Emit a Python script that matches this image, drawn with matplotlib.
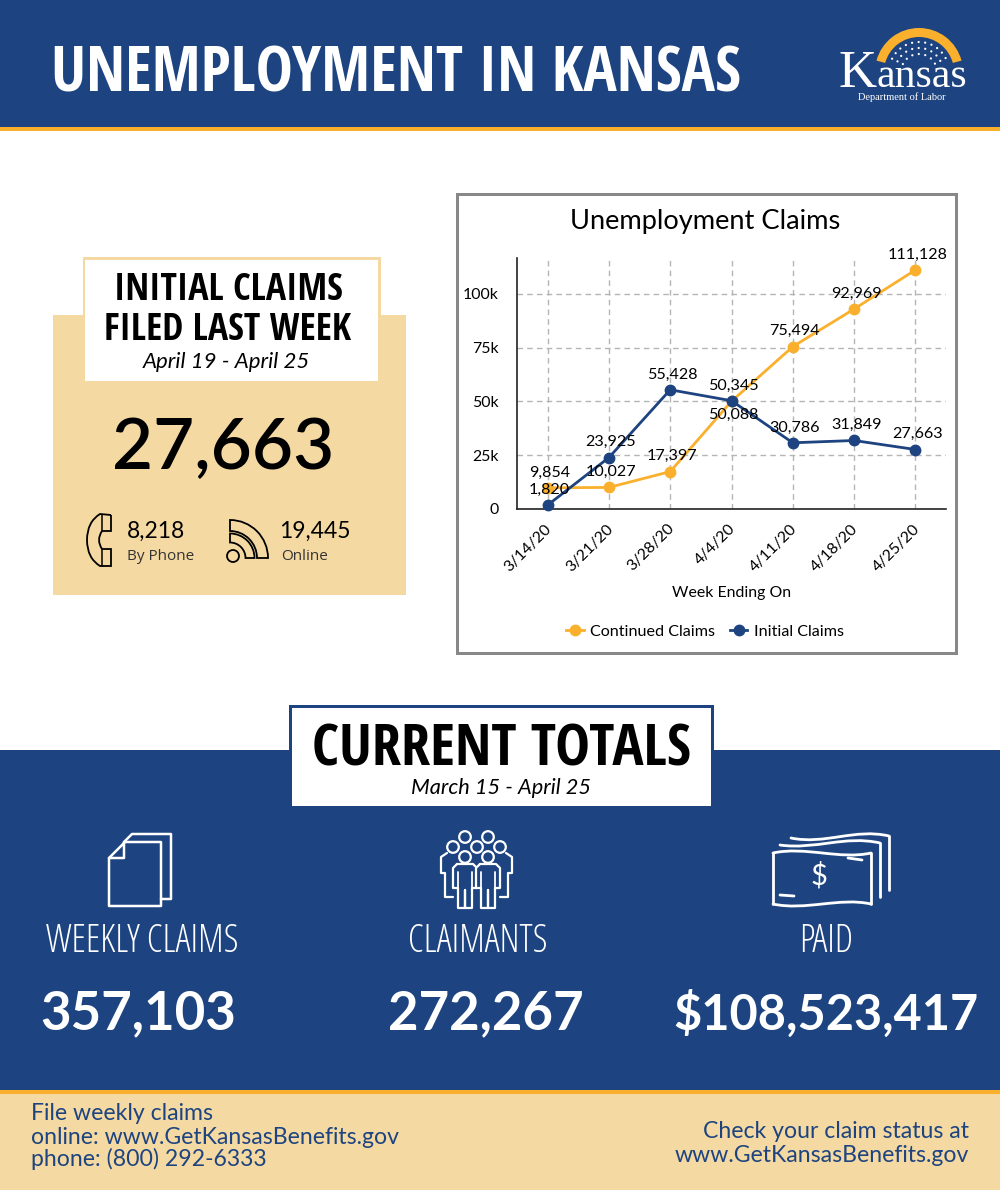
import numpy as np
import matplotlib
matplotlib.use("Agg")
import matplotlib.pyplot as plt
from matplotlib.patches import Rectangle, Circle, Wedge, PathPatch
from matplotlib.path import Path
from matplotlib.ticker import FuncFormatter
from matplotlib.transforms import ScaledTranslation

plt.rcParams["font.family"] = ["Lato", "DejaVu Sans"]

weeks = ["3/14/20", "3/21/20", "3/28/20", "4/4/20", "4/11/20", "4/18/20", "4/25/20"]
continued_claims = [9854, 10027, 17397, 50088, 75494, 92969, 111128]
initial_claims = [1820, 23925, 55428, 50345, 30786, 31849, 27663]
y_ticks = [0, 25000, 50000, 75000, 100000]

totals_labels = ["WEEKLY CLAIMS", "CLAIMANTS", "PAID"]
totals_values = ["357,103", "272,267", "$108,523,417"]

BLUE = "#1D4480"
GOLD = "#FBB02D"
TAN = "#F5D9A2"
HEAD = ["Open Sans Condensed", "DejaVu Sans"]

fig = plt.figure(figsize=(10, 12), dpi=100)

# background layer in pixel coordinates
bg = fig.add_axes([0, 0, 1, 1])
bg.set_xlim(0, 1000)
bg.set_ylim(1200, 0)
bg.axis("off")


def box(x0, y0, x1, y1, color, z=1):
    bg.add_patch(Rectangle((x0, y0), x1 - x0, y1 - y0, facecolor=color, edgecolor="none", zorder=z))


def label(x, y, s, size, color="black", ha="center", family=None, **kw):
    return bg.text(x, y, s, fontsize=size, color=color, ha=ha, va="center", family=family or ["Lato", "DejaVu Sans"], zorder=6, **kw)


def wave(p0, c1, c2, p1, color="white", lw=2):
    bg.add_patch(PathPatch(Path([p0, c1, c2, p1], [Path.MOVETO, Path.CURVE4, Path.CURVE4, Path.CURVE4]),
                           facecolor="none", edgecolor=color, lw=lw, zorder=5, capstyle="round"))


def poly(points, color, lw=1.4, z=5, face="none"):
    codes = [Path.MOVETO] + [Path.LINETO] * (len(points) - 1)
    bg.add_patch(PathPatch(Path(points, codes), facecolor=face, edgecolor=color, lw=lw, zorder=z, joinstyle="round", capstyle="round"))


# header
box(0, 0, 1000, 127, BLUE)
box(0, 127, 1000, 131, GOLD)
label(396, 75, "UNEMPLOYMENT IN KANSAS", 45, "white", family=HEAD, weight="bold")

# logo
bg.add_patch(Wedge((919, 72), 44, 195, 345, width=9, facecolor=GOLD, edgecolor="none", zorder=3))
for r, n in [(30, 11), (24, 9), (18, 7)]:
    for i in range(n):
        a = 3.6 + 2.2 * i / (n - 1)
        bg.add_patch(Circle((919 + r * np.cos(a), 72 + r * np.sin(a)), 1.1, facecolor="white", edgecolor="none", zorder=3))
bg.text(838, 87, "K", fontsize=38, color="white", family="Liberation Serif", ha="left", va="baseline", zorder=6)
bg.text(876, 87, "ansas", fontsize=30, color="white", family="Liberation Serif", ha="left", va="baseline", zorder=6)
label(902, 97, "Department of Labor", 7.5, "white", family="Liberation Serif")

# initial claims card
box(53, 315, 406, 595, TAN)
box(83, 257, 381, 383, TAN, z=2)
box(85, 260, 378, 381, "white", z=3)
label(228, 290, "INITIAL CLAIMS", 27.3, family=HEAD, weight="bold")
label(228, 330, "FILED LAST WEEK", 27.3, family=HEAD, weight="bold")
label(226, 362, "April 19 - April 25", 16, style="italic")
label(223, 449, "27,663", 51, weight="semibold")

label(156, 531, "8,218", 16.5)
label(127, 557, "By Phone", 11, "#333333", ha="left", family=["Open Sans"])
label(315, 531, "19,445", 16.5)
label(281, 557, "Online", 11, "#333333", ha="left", family=["Open Sans"])

# phone icon
phone = Path(
    [(111, 515), (100, 514), (87, 522), (87, 540), (87, 558), (100, 566), (111, 566), (111, 549), (102, 549),
     (96, 540), (102, 531), (111, 531), (111, 515)],
    [Path.MOVETO, Path.LINETO, Path.CURVE3, Path.CURVE3, Path.CURVE3, Path.CURVE3, Path.LINETO, Path.LINETO, Path.LINETO,
     Path.CURVE3, Path.CURVE3, Path.LINETO, Path.LINETO],
)
bg.add_patch(PathPatch(phone, facecolor="none", edgecolor="black", lw=1.3, zorder=5))
poly([(102, 515), (102, 531)], "black", 1.1)
poly([(102, 549), (102, 566)], "black", 1.1)

# wifi icon
bg.add_patch(Circle((233, 556), 6, facecolor="none", edgecolor="black", lw=1.3, zorder=5))
bg.add_patch(Wedge((230, 558), 38, 270, 360, width=11, facecolor="none", edgecolor="black", lw=1.3, zorder=5))
bg.add_patch(Wedge((230, 558), 24.5, 270, 360, width=9, facecolor="none", edgecolor="black", lw=1.3, zorder=5))

# chart card
box(456, 193, 958, 655, "#888888")
box(459, 196, 955, 652, "white", z=2)
label(705, 222, "Unemployment Claims", 19.6)

# totals band
box(0, 750, 1000, 1090, BLUE)
box(289, 705, 714, 806, BLUE, z=2)
box(292, 708, 711, 806, "white", z=3)
label(501, 751, "CURRENT TOTALS", 42, family=HEAD, weight="bold")
label(501, 788, "March 15 - April 25", 15.7, style="italic")

for x, s in zip([142, 478, 826], totals_labels):
    label(x, 942, s, 27, "white", family=["Open Sans"], stretch="condensed", weight="light")
for x, s, size in zip([138, 486, 826], totals_values, [38, 38, 35]):
    label(x, 1014, s, size, "white", weight="bold")

# documents icon
poly([(109, 858), (125, 842), (161, 842), (161, 906), (109, 906), (109, 858), (124, 858), (124, 842)], "white", 1.8)
poly([(124, 842), (132, 834), (171, 834), (171, 899), (161, 899)], "white", 1.8)

# people icon
for cx, cy in [(465, 837), (488, 837), (453, 847), (477, 847), (500, 847)]:
    bg.add_patch(Circle((cx, cy), 5.8, facecolor=BLUE, edgecolor="white", lw=1.6, zorder=4))
poly([(447, 853), (441, 857), (441, 873), (445, 873), (445, 897), (453, 897)], "white", 1.6)
poly([(506, 853), (512, 857), (512, 873), (508, 873), (508, 897), (500, 897)], "white", 1.6)
for cx in [465, 488]:
    poly([(cx - 8, 864), (cx - 12, 868), (cx - 12, 888), (cx - 7, 888), (cx - 7, 908), (cx, 908), (cx, 890),
          (cx, 908), (cx + 7, 908), (cx + 7, 888), (cx + 12, 888), (cx + 12, 868), (cx + 8, 864), (cx - 8, 864)],
         "white", 1.6, face=BLUE)
    poly([(cx - 7, 872), (cx - 7, 888)], "white", 1.3)
    poly([(cx + 7, 872), (cx + 7, 888)], "white", 1.3)
    bg.add_patch(Circle((cx, 857), 5.8, facecolor=BLUE, edgecolor="white", lw=1.6, zorder=5))

# cash icon
poly([(773, 853), (773, 904)], "white", 2)
poly([(871, 853), (871, 904)], "white", 2)
wave((773, 853), (805, 846), (840, 860), (871, 853))
wave((773, 904), (805, 911), (840, 897), (871, 904))
wave((780, 845), (815, 850), (845, 835), (880, 843))
poly([(880, 843), (880, 897)], "white", 2)
wave((791, 838), (825, 845), (855, 828), (889, 836))
poly([(889, 836), (889, 890)], "white", 2)
poly([(848, 858), (862, 860)], "white", 2)
poly([(780, 895), (794, 896)], "white", 2)
label(819, 876, "$", 21, "white")

# footer
box(0, 1090, 1000, 1094, GOLD)
box(0, 1094, 1000, 1190, TAN)
label(31, 1114, "File weekly claims", 16.6, BLUE, ha="left")
label(31, 1137, "online: www.GetKansasBenefits.gov", 16.6, BLUE, ha="left")
label(31, 1159, "phone: (800) 292-6333", 16.6, BLUE, ha="left")
label(969, 1132, "Check your claim status at", 16.6, BLUE, ha="right")
label(969, 1156, "www.GetKansasBenefits.gov", 16.6, BLUE, ha="right")

# the actual chart
ax = fig.add_axes([517 / 1000, 1 - 509 / 1200, 429 / 1000, 251 / 1200])
ax.patch.set_alpha(0)
x = list(range(len(weeks)))
ax.plot(x, continued_claims, color=GOLD, lw=2, marker="o", ms=7.5, label="Continued Claims", clip_on=False, zorder=3)
ax.plot(x, initial_claims, color=BLUE, lw=2, marker="o", ms=7.5, label="Initial Claims", clip_on=False, zorder=4)
ax.set_xlim(-0.5, 6.5)
ax.set_ylim(0, 116700)
ax.set_xticks(x)
ax.set_xticklabels(weeks, rotation=45, ha="right", rotation_mode="anchor", fontsize=11.4)
ax.set_yticks(y_ticks)
ax.yaxis.set_major_formatter(FuncFormatter(lambda v, p: "0" if v == 0 else f"{int(v / 1000)}k"))
ax.tick_params(length=0, labelsize=11.4, pad=13)
ax.tick_params(axis="x", pad=9)
for t in ax.get_xticklabels():
    t.set_transform(t.get_transform() + ScaledTranslation(-2 / 72, 0, fig.dpi_scale_trans))
ax.grid(True, color="#b5b5b5", ls=(0, (4, 3)), lw=1)
ax.set_axisbelow(True)
for s in ["top", "right"]:
    ax.spines[s].set_visible(False)
for s in ["left", "bottom"]:
    ax.spines[s].set_color("#222222")
    ax.spines[s].set_linewidth(1.2)
ax.set_xlabel("Week Ending On", fontsize=11.4)
ax.xaxis.set_label_coords(0.5, -(593 - 509) / 251)
ax.xaxis.label.set_va("center")

for i, v in enumerate(continued_claims):
    dy = -10 if weeks[i] == "4/4/20" else 11
    ax.annotate(f"{v:,}", (i, v), xytext=(1.5, dy), textcoords="offset points", ha="center", va="center", fontsize=11.6, zorder=5)
for i, v in enumerate(initial_claims):
    ax.annotate(f"{v:,}", (i, v), xytext=(1.5, 11), textcoords="offset points", ha="center", va="center", fontsize=11.6, zorder=5)

ax.legend(loc="center", bbox_to_anchor=(705 / 1000, 1 - 632 / 1200), bbox_transform=fig.transFigure, ncol=2,
          frameon=False, fontsize=11.6, handlelength=1.1, columnspacing=0.9, handletextpad=0.4)

fig.savefig("out.png", dpi=100)
